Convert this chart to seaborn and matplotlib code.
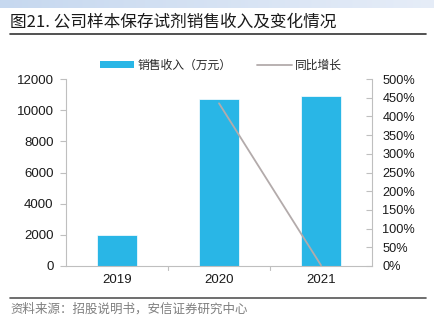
import numpy as np
import pandas as pd
import matplotlib
matplotlib.use("Agg")
import matplotlib.pyplot as plt
from matplotlib.patches import Patch
from matplotlib.lines import Line2D
from matplotlib.colors import LinearSegmentedColormap
import seaborn as sns

years = ["2019", "2020", "2021"]
revenue = [2000, 10700, 10900]          # 销售收入（万元）
growth = [np.nan, 435.0, 1.9]           # 同比增长（%）
left_ticks = [0, 2000, 4000, 6000, 8000, 10000, 12000]
right_ticks = [0, 50, 100, 150, 200, 250, 300, 350, 400, 450, 500]

sns.set_theme(style="white")
plt.rcParams["font.family"] = ["Liberation Sans", "Noto Sans CJK SC", "DejaVu Sans"]
cjk = ["Noto Sans CJK SC", "DejaVu Sans"]

BAR = "#29B6E6"
LINE = "#B3ABAB"
AXIS = "#BFBFBF"
TXT = "#1A1A1A"

fig = plt.figure(figsize=(4.35, 3.32), dpi=100)

# header band
band = fig.add_axes([0, 1 - 8 / 332, 1, 8 / 332])
grad = np.linspace(0, 1, 256).reshape(1, -1)
cmap = LinearSegmentedColormap.from_list("hdr", ["#C6D8EF", "#E6EDF8"])
band.imshow(grad, aspect="auto", cmap=cmap, extent=[0, 1, 0, 1])
band.axis("off")

fig.text(10 / 435, 1 - 22 / 332, "图21. 公司样本保存试剂销售收入及变化情况",
         family=cjk, fontsize=12, color="#1A1A1A", va="center", ha="left",
         fontweight="medium")
fig.add_artist(Line2D([10 / 435, 426 / 435], [1 - 34 / 332, 1 - 34 / 332],
                      color="#333333", lw=1.2))
fig.add_artist(Line2D([10 / 435, 426 / 435], [1 - 298 / 332, 1 - 298 / 332],
                      color="#555555", lw=1.2))
fig.text(10 / 435, 1 - 309 / 332, "资料来源：招股说明书，安信证券研究中心",
         family=cjk, fontsize=9, color="#7F7F7F", va="center", ha="left",
         style="italic")

ax = fig.add_axes([66 / 435, 1 - 266 / 332, (372 - 66) / 435, (266 - 79) / 332])
df = pd.DataFrame({"year": years, "revenue": revenue})
sns.barplot(data=df, x="year", y="revenue", color=BAR, saturation=1,
            width=0.4, ax=ax, edgecolor="white", linewidth=0.5)
ax.set_xlim(-0.5, 2.5)
ax.set_ylim(0, 12000)
ax.set_yticks(left_ticks)
ax.set_yticklabels([str(t) for t in left_ticks])
ax.set_xlabel("")
ax.set_ylabel("")
for s in ["top", "right"]:
    ax.spines[s].set_visible(False)
for s in ["left", "bottom"]:
    ax.spines[s].set_color(AXIS)
    ax.spines[s].set_linewidth(0.8)
ax.tick_params(axis="y", direction="out", length=4, color=AXIS, width=0.8,
               labelsize=9.5, labelcolor=TXT, pad=5, left=True)
ax.tick_params(axis="x", length=0, labelsize=9.5, labelcolor=TXT, pad=6)
for xb in [0.5, 1.5]:
    ax.plot([xb, xb], [0, -0.02], transform=ax.get_xaxis_transform(),
            color=AXIS, lw=0.8, clip_on=False)

ax2 = ax.twinx()
sns.lineplot(x=np.arange(len(years)), y=growth, ax=ax2, color=LINE, lw=1.3)
ax2.set_ylim(0, 500)
ax2.set_yticks(right_ticks)
ax2.set_yticklabels([f"{t}%" for t in right_ticks])
for s in ["top", "left", "bottom"]:
    ax2.spines[s].set_visible(False)
ax2.spines["right"].set_color(AXIS)
ax2.spines["right"].set_linewidth(0.8)
ax2.tick_params(axis="y", direction="in", length=4, color=AXIS, width=0.8,
                labelsize=9.2, labelcolor=TXT, pad=7.5, right=True)
ax2.set_xlim(-0.5, 2.5)

handles = [Patch(facecolor=BAR, edgecolor="none"),
           Line2D([0], [0], color=LINE, lw=1.3)]
fig.legend(handles, ["销售收入（万元）", "同比增长"], loc="center",
           bbox_to_anchor=(221 / 435, 1 - 65 / 332), ncol=2, frameon=False,
           prop={"family": cjk, "size": 8.5}, handlelength=2.9, handleheight=0.6,
           columnspacing=2.2, handletextpad=0.3)

fig.savefig("out.png", dpi=100)
